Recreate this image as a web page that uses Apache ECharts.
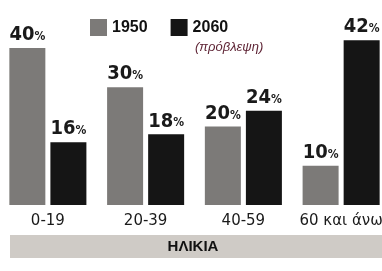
<!DOCTYPE html>
<html><head><meta charset="utf-8">
<script src="https://cdn.jsdelivr.net/npm/echarts@6/dist/echarts.min.js"></script>
<style>html,body{margin:0;padding:0;background:#fff;overflow:hidden;width:382px;height:271px}#c{position:absolute;left:-1px;top:0;width:391px;height:271px}</style>
</head><body><div id="c"></div>
<script>
const categories = ['0-19', '20-39', '40-59', '60 και άνω'];
const values1950 = [40, 30, 20, 10];
const values2060 = [16, 18, 24, 42];
const seriesNames = ['1950', '2060'];
const noteText = '(πρόβλεψη)';
const axisTitle = 'ΗΛΙΚΙΑ';

const narrow = "'DejaVu Sans Condensed', 'Liberation Sans Narrow', Arial, sans-serif";
const labelCfg = {
  show: true, position: 'top', distance: 3,
  formatter: p => '{a|' + p.value + '}{b|%}',
  rich: {
    a: {fontFamily: narrow, fontSize: 20, fontWeight: 'bold', color: '#1a1a1a', verticalAlign: 'bottom', lineHeight: 22},
    b: {fontFamily: narrow, fontSize: 12, fontWeight: 'bold', color: '#1a1a1a', verticalAlign: 'bottom', lineHeight: 22, padding: [0, 0, 2, 0]}
  }
};

const chart = echarts.init(document.getElementById('c'), null, {renderer: 'canvas'});
chart.setOption({
  animation: false,
  backgroundColor: '#ffffff',
  grid: {left: 0, right: 0, top: 8.75, bottom: 66, containLabel: false},
  legend: {
    data: seriesNames, left: 91, top: 19, padding: 0, itemWidth: 17, itemHeight: 17, itemGap: 23,
    icon: 'rect',
    textStyle: {fontFamily: 'Arial, Liberation Sans, sans-serif', fontWeight: 'bold', fontSize: 16, color: '#111', padding: [2, 0, 0, 0]}
  },
  xAxis: {
    type: 'category', data: categories,
    axisLine: {show: false}, axisTick: {show: false},
    axisLabel: {interval: 0, margin: 9, fontSize: 15, color: '#1a1a1a', fontFamily: "'DejaVu Sans', sans-serif"}
  },
  yAxis: {type: 'value', min: 0, max: 50, show: false, splitLine: {show: false}},
  series: [
    {name: seriesNames[0], type: 'bar', data: values1950, barWidth: 36, barGap: '14%',
     itemStyle: {color: '#7c7a78'}, label: labelCfg},
    {name: seriesNames[1], type: 'bar', data: values2060, barWidth: 36,
     itemStyle: {color: '#151515'}, label: labelCfg}
  ],
  graphic: [
    {type: 'text', left: 196, top: 41, style: {text: noteText, fontSize: 13, fontStyle: 'italic', fontFamily: 'Arial, Liberation Sans, sans-serif', fill: '#5e2435'}},
    {type: 'rect', shape: {x: 11, y: 235, width: 380, height: 23}, style: {fill: '#cfcbc6'}},
    {type: 'text', x: 194, y: 247, style: {text: axisTitle, fontSize: 15, fontWeight: 'bold', fontFamily: 'Arial, Liberation Sans, sans-serif', fill: '#111', align: 'center', verticalAlign: 'middle'}}
  ]
});
</script></body></html>
